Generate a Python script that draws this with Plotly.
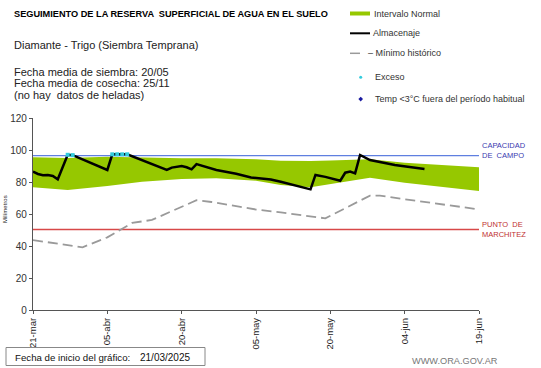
import plotly.graph_objects as go
from datetime import date, timedelta

START = date(2025, 3, 21)

def dt(d):
    return (START + timedelta(days=d)).isoformat()

# ---- data ----
band_days = [0, 7, 15, 22, 30, 37, 45, 50, 56, 60, 68, 75, 90]
band_upper = [95.4, 95.0, 95.8, 95.3, 94.8, 94.8, 94.2, 93.3, 93.1, 93.5, 94.2, 92.1, 89.2]
band_lower = [76.7, 75.0, 77.5, 80.2, 81.9, 82.3, 80.8, 78.1, 76.7, 78.8, 82.7, 79.6, 74.4]

min_days = [0, 10, 15, 20, 24, 33, 36, 45, 50, 59, 68, 70, 75, 81, 90]
min_hist = [43.7, 39.2, 45.4, 54.4, 56.3, 68.6, 67.5, 62.8, 61.0, 57.3, 71.5, 71.5, 69.2, 66.7, 62.9]

alm_days = [0, 1, 2, 3, 4, 5, 7, 8, 15, 16, 17, 18, 19, 27, 28, 30, 31, 32, 33, 37, 41, 44, 48, 50,
            56, 57, 59, 62, 63, 64, 65, 66, 68, 73, 79]
almacenaje = [86.5, 85.0, 84.2, 84.4, 83.8, 81.7, 97.0, 96.8, 87.5, 97.3, 97.3, 97.3, 97.3, 87.5, 89.0,
              90.0, 89.2, 87.9, 91.2, 87.5, 85.2, 82.8, 81.6, 80.2, 75.4, 84.4, 83.2, 80.8, 85.8, 86.5,
              85.4, 96.9, 93.7, 90.6, 88.1]

exceso_days = [7, 8, 16, 17, 18, 19]
exceso = [97.0, 96.8, 97.3, 97.3, 97.3, 97.3]

capacidad_campo = 96.5
punto_marchitez = 50.3

axis_days = [0, 90]
tick_days = [0, 15, 30, 45, 60, 75, 90]
tick_labels = ["21-mar", "05-abr", "20-abr", "05-may", "20-may", "04-jun", "19-jun"]
y_ticks = [0, 20, 40, 60, 80, 100, 120]

legend_names = ["Intervalo Normal", "Almacenaje", "– Mínimo histórico", "Exceso",
                "Temp <3°C fuera del período habitual"]

# ---- colours ----
C_BAND = "#96c800"
C_ALM = "#000000"
C_MIN = "#9a9a9a"
C_EXC = "#33ccdd"
C_TEMP = "#1a1aa0"
C_CAP = "#5f7fe0"
C_PMP = "#d84848"

# ---- figure ----
fig = go.Figure()

fig.add_trace(go.Scatter(x=[dt(d) for d in band_days], y=band_lower, mode="lines",
                         line=dict(width=0, color=C_BAND), showlegend=False, hoverinfo="skip"))
fig.add_trace(go.Scatter(x=[dt(d) for d in band_days], y=band_upper, mode="lines",
                         line=dict(width=0, color=C_BAND), fill="tonexty", fillcolor=C_BAND,
                         name=legend_names[0], showlegend=False))

fig.add_trace(go.Scatter(x=[dt(d) for d in axis_days], y=[capacidad_campo] * 2, mode="lines",
                         line=dict(width=1.3, color=C_CAP), showlegend=False))
fig.add_trace(go.Scatter(x=[dt(d) for d in axis_days], y=[punto_marchitez] * 2, mode="lines",
                         line=dict(width=1.3, color=C_PMP), showlegend=False))

fig.add_trace(go.Scatter(x=[dt(d) for d in min_days], y=min_hist, mode="lines",
                         line=dict(width=1.8, color=C_MIN, dash="10px,5px"),
                         name="Mínimo histórico", showlegend=False))

fig.add_trace(go.Scatter(x=[dt(d) for d in alm_days], y=almacenaje, mode="lines",
                         line=dict(width=2.5, color=C_ALM), name="Almacenaje", showlegend=False))

fig.add_trace(go.Scatter(x=[dt(d) for d in exceso_days], y=exceso, mode="markers",
                         marker=dict(size=4, color=C_EXC, symbol="square"),
                         name="Exceso", showlegend=False))

W, H = 541, 368
L, R, T, B = 33, 62, 118, 58
pw, ph = W - L - R, H - T - B

def px(xp):
    return (xp - L) / pw

def py(yp):
    return (H - B - yp) / ph

fig.update_layout(
    width=W, height=H, autosize=False,
    margin=dict(l=L, r=R, t=T, b=B, pad=0, autoexpand=False),
    plot_bgcolor="white", paper_bgcolor="white",
    font=dict(family="Liberation Sans, Arial, sans-serif", color="#222"),
    showlegend=False,
    xaxis=dict(type="date", range=[dt(0), dt(90)], tickvals=[dt(d) for d in tick_days],
               ticktext=tick_labels, tickangle=-90, tickfont=dict(size=9.5, color="#222"),
               showgrid=False, zeroline=False, showline=True, linecolor="#555", linewidth=1.2,
               ticks="outside", ticklen=3, tickcolor="#555", automargin=False),
    yaxis=dict(range=[0, 120], tickvals=y_ticks, tickfont=dict(size=10, color="#333"),
               showgrid=False, zeroline=False, showline=True, linecolor="#555", linewidth=1.2,
               ticks="outside", ticklen=3, tickcolor="#555", automargin=False),
)

ann = []
ann.append(dict(text="<b>SEGUIMIENTO DE LA RESERVA  SUPERFICIAL DE AGUA EN EL SUELO</b>",
                x=px(12), y=py(14), xanchor="left", yanchor="middle", font=dict(size=9.2, color="#000")))
ann.append(dict(text="Diamante - Trigo (Siembra Temprana)", x=px(12), y=py(45),
                xanchor="left", yanchor="middle", font=dict(size=11, color="#222")))
for txt, yy in [("Fecha media de siembra: 20/05", 71.7), ("Fecha media de cosecha: 25/11", 83.3),
                ("(no hay  datos de heladas)", 95)]:
    ann.append(dict(text=txt, x=px(12), y=py(yy), xanchor="left", yanchor="middle",
                    font=dict(size=11, color="#222")))
ann.append(dict(text="Milímetros", x=px(5), y=py(209), xanchor="center", yanchor="middle",
                textangle=-90, font=dict(size=6, color="#222")))
ann.append(dict(text="CAPACIDAD<br>DE  CAMPO", x=px(480), y=py(150), xanchor="left", yanchor="middle",
                align="left", font=dict(size=7.5, color="#3a3ab0")))
ann.append(dict(text="PUNTO  DE<br>MARCHITEZ", x=px(480), y=py(229), xanchor="left", yanchor="middle",
                align="left", font=dict(size=7.5, color="#c03030")))
ann.append(dict(text="Fecha de inicio del gráfico:", x=px(12.5), y=py(357), xanchor="left",
                yanchor="middle", font=dict(size=9.7, color="#111")))
ann.append(dict(text="21/03/2025", x=px(137.5), y=py(357), xanchor="left",
                yanchor="middle", font=dict(size=10, color="#111")))
ann.append(dict(text="WWW.ORA.GOV.AR", x=px(500), y=py(361), xanchor="right",
                yanchor="middle", font=dict(size=9.2, color="#777")))

# legend (text)
leg_y = [13.5, 33.3, 53.3, 77.3, 99.3]
leg_x = [372, 371, 366, 373, 373]
for name, lx, ly in zip(legend_names, leg_x, leg_y):
    ann.append(dict(text=name, x=px(lx), y=py(ly), xanchor="left", yanchor="middle",
                    font=dict(size=9, color="#333")))
for a in ann:
    a.update(xref="paper", yref="paper", showarrow=False)
fig.update_layout(annotations=ann)

shapes = []
# legend glyphs
shapes.append(dict(type="rect", x0=px(350), x1=px(370), y0=py(11.5), y1=py(15.5),
                   fillcolor=C_BAND, line=dict(width=0)))
shapes.append(dict(type="line", x0=px(350), x1=px(370), y0=py(33.3), y1=py(33.3),
                   line=dict(color=C_ALM, width=2)))
shapes.append(dict(type="line", x0=px(350), x1=px(360), y0=py(53.3), y1=py(53.3),
                   line=dict(color=C_MIN, width=1.5)))
shapes.append(dict(type="circle", x0=px(359.2), x1=px(362.2), y0=py(75.8), y1=py(78.8),
                   fillcolor=C_EXC, line=dict(width=0)))
shapes.append(dict(type="path",
                   path="M {0},{1} L {2},{3} L {0},{4} L {5},{3} Z".format(
                       px(360.7), py(96.8), px(363), py(99.1), py(101.4), px(358.4)),
                   fillcolor=C_TEMP, line=dict(width=0)))
# footer box
shapes.append(dict(type="rect", x0=px(6), x1=px(205), y0=py(347.5), y1=py(365.5),
                   line=dict(color="#888", width=1), fillcolor="rgba(0,0,0,0)"))
for s in shapes:
    s.update(xref="paper", yref="paper")
fig.update_layout(shapes=shapes)

fig.write_html("out.html", config={"displayModeBar": False},
               post_script="document.body.style.margin='0px';")
